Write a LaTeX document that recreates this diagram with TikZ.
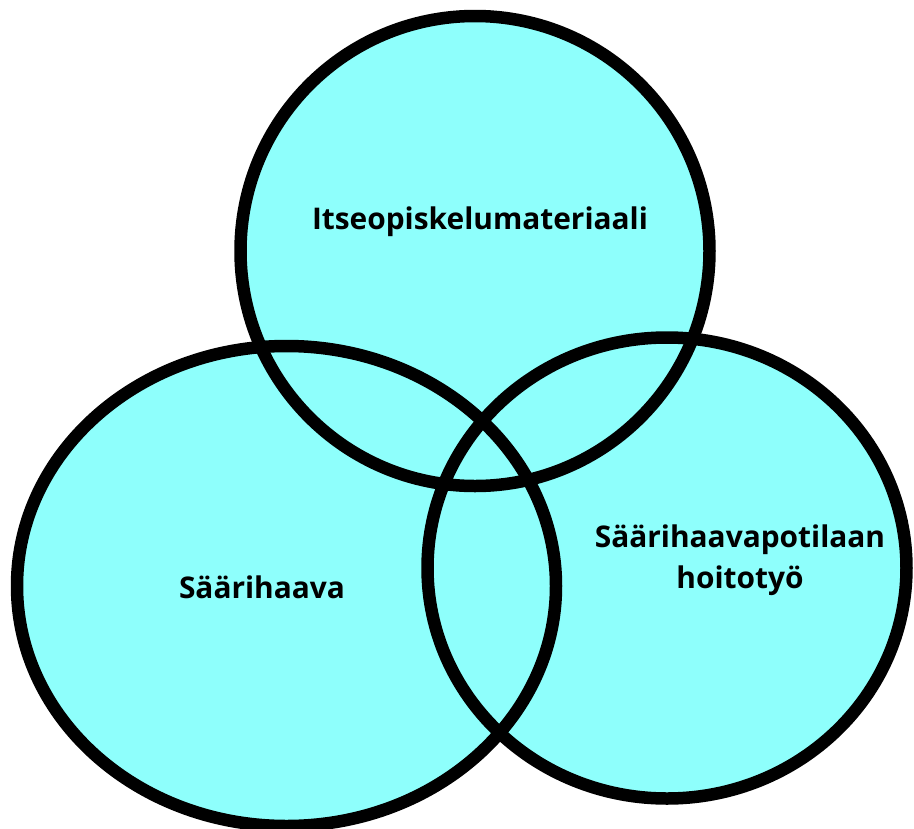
\documentclass[tikz,border=0pt]{standalone}
\usepackage{fontspec}
\setmainfont{Open Sans}
\usepackage{tikz}
\usetikzlibrary{calc}

\definecolor{venncyan}{HTML}{8EFFFC}

\tikzset{
    setlabel/.style={font=\bfseries\fontsize{17pt}{23pt}\selectfont, text=black, anchor=base, align=center, inner sep=0pt}
}

\begin{document}
\begin{tikzpicture}[x=0.02cm, y=-0.02cm, line cap=round, line join=round]
    \useasboundingbox (0,0) rectangle (914,829);

    % Fills first (centre x, centre y, radius x, radius y)
    \foreach \cx/\cy/\rx/\ry in {475/251/234.5/235, 286.5/586/269.5/240, 667/568/239.5/230.5}{
        \fill[venncyan] (\cx,\cy) ellipse [x radius=\rx, y radius=\ry];
    }
    % Outlines on top of all fills
    \foreach \cx/\cy/\rx/\ry in {475/251/234.5/235, 286.5/586/269.5/240, 667/568/239.5/230.5}{
        \draw[black, line width=0.25cm] (\cx,\cy) ellipse [x radius=\rx, y radius=\ry];
    }

    % Set labels
    \node[setlabel] (material) at (480,229) {Itseopiskelumateriaali};
    \node[setlabel] (haava) at (262,598) {Säärihaava};
    \node[setlabel] (hoito) at (740,588) {Säärihaavapotilaan\\hoitotyö};
\end{tikzpicture}
\end{document}
